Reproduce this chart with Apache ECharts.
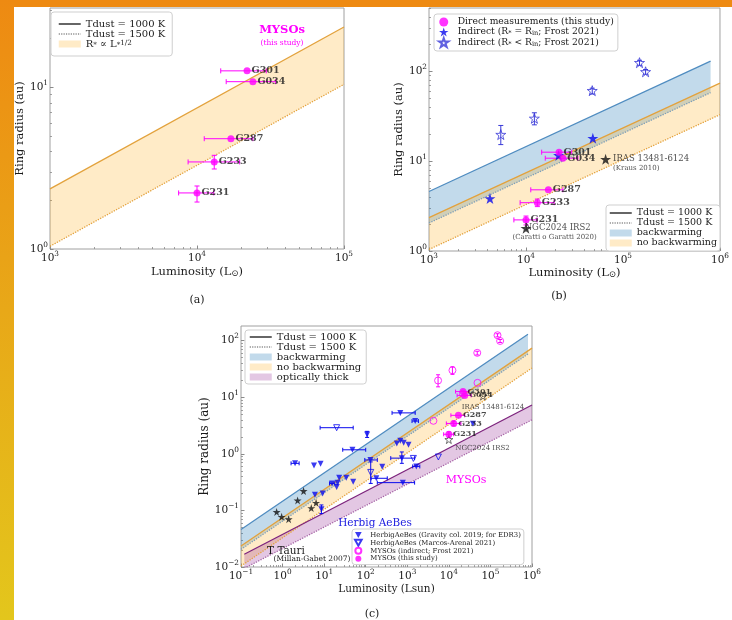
<!DOCTYPE html>
<html><head><meta charset="utf-8">
<script src="https://cdn.jsdelivr.net/npm/echarts@6/dist/echarts.min.js"></script>
<style>html,body{margin:0;padding:0;background:#fff}#c{width:732px;height:620px}</style>
</head><body><div id="c"></div>
<script>
// ---------------- DATA ----------------
// MYSOs (this study)
const mysoNames = ['G301', 'G034', 'G287', 'G233', 'G231'];
const mysoL   = [21900, 24000, 17000, 13100, 10000];
const mysoR   = [12.6, 10.8, 4.8, 3.45, 2.22];
const mysoLlo = [14500, 15800, 11200, 8700, 7500];
const mysoLhi = [29600, 34300, 24000, 19500, 13000];
const mysoRlo = [null, null, null, 3.12, 1.95];
const mysoRhi = [null, null, null, 3.79, 2.45];

// Frost 2021 indirect, R* = Rin
const frostEqL = [4250, 21700, 48900];
const frostEqR = [3.84, 11.6, 18.0];
// Frost 2021 indirect, R* < Rin
const frostLtL   = [5500, 12200, 48200, 148000, 171000];
const frostLtR   = [19.8, 30.0, 61, 125, 99];
const frostLtRlo = [15.3, 25.4, 56, 117, 93];
const frostLtRhi = [25.0, 34.6, 65, 133, 105];

// Other MYSOs (interferometric literature)
const otherNames = ['IRAS 13481-6124', 'NGC2024 IRS2'];
const otherRefs  = ['(Kraus 2010)', '(Caratti o Garatti 2020)'];
const otherL = [66200, 10000];
const otherR = [10.5, 1.79];

// Herbig AeBes (Gravity col. 2019)
const habGL   = [2.0, 5.7, 8.2, 6.0, 9.2, 8.6, 15.5, 20, 21, 23, 34, 50, 48, 108, 130, 180, 250, 680, 1550, 560, 680, 820, 1070, 740, 780, 1650, 38000];
const habGR   = [0.68, 0.62, 0.67, 0.19, 0.20, 0.105, 0.30, 0.26, 0.31, 0.38, 0.38, 0.32, 1.18, 2.2, 0.78, 0.37, 0.59, 5.3, 3.8, 1.53, 1.70, 1.57, 1.45, 0.84, 0.31, 0.60, 3.4];
const habGLlo = [1.6, null, null, null, null, null, 13.5, null, null, null, null, null, 28, null, 95, 135, null, 430, 1300, null, null, null, null, 400, 190, 1350, null];
const habGLhi = [2.5, null, null, null, null, null, 18, null, null, null, null, null, 100, null, 190, 330, null, 1550, 1850, null, null, null, null, 1500, 1500, 2000, null];
const habGRlo = [null, null, null, null, null, 0.088, null, null, null, null, null, null, null, 1.95, null, null, null, null, null, null, null, null, null, 0.68, null, null, null];
const habGRhi = [null, null, null, null, null, 0.125, null, null, null, null, null, null, null, 2.5, null, null, null, null, null, null, null, null, null, 1.08, null, null, null];

// Herbig AeBes (Marcos-Arenal 2021)
const habML   = [20, 132, 1400, 5600];
const habMR   = [2.9, 0.47, 0.83, 0.88];
const habMLlo = [8, null, null, null];
const habMLhi = [50, null, null, null];
const habMRlo = [null, 0.30, null, null];
const habMRhi = [null, 0.72, null, null];

// T Tauri (Millan-Gabet 2007)
const ttL = [0.72, 0.95, 1.4, 2.3, 3.2, 4.9, 6.4];
const ttR = [0.094, 0.077, 0.07, 0.15, 0.22, 0.11, 0.136];

// Model relations (end points)
const noBwL_a = [1e3, 1e5];   const noBw1000_a = [2.35, 23.5];  const noBw1500_a = [1.04, 10.4];
const noBwL_b = [1e3, 1e6];   const noBw1000_b = [2.35, 74];    const noBw1500_b = [1.04, 33];
const bwL_b   = [1e3, 8e5];   const bw1000_b   = [4.6, 130];    const bw1500_b   = [2.05, 58];
const noBwL_c = [0.1, 1e6];   const noBw1000_c = [0.0235, 74];  const noBw1500_c = [0.0104, 33];
const bwL_c   = [0.1, 8e5];   const bw1000_c   = [0.046, 130];  const bw1500_c   = [0.0205, 58];
const thickL_c = [0.12, 1e6]; const thick1000_c = [0.0168, 7.3]; const thick1500_c = [0.0095, 4.0];

// Axis ticks
const xMajorA = [1e3, 1e4, 1e5];   const yMajorA = [1, 10];
const xMajorB = [1e3, 1e4, 1e5, 1e6]; const yMajorB = [1, 10, 100];
const xMajorC = [0.1, 1, 10, 100, 1e3, 1e4, 1e5, 1e6]; const yMajorC = [0.01, 0.1, 1, 10, 100];

// ---------------- STYLE / HELPERS ----------------
const FONT = 'DejaVu Serif';
const TXT = '#1a1a1a';
const STAR = 'path://M50,2 L61.8,37.6 L99,37.6 L68.9,59.5 L80.4,95 L50,73 L19.6,95 L31.1,59.5 L1,37.6 L38.2,37.6 Z';
const DTRI = 'path://M0,0 L10,0 L5,9 Z';
const MAG = '#ff00ff', BLUE = '#0a0aee';
const ORANGE_LINE = '#e3a23c', BLUE_LINE = '#4f8cc0', BLUE_DOT = '#7f9fb8', PURP_LINE = '#7d237d', PURP_DOT = '#a765a7';
const ORANGE_FILL = 'rgba(255,165,0,0.22)', BLUE_FILL = 'rgba(31,119,180,0.27)', PURP_FILL = 'rgba(128,0,128,0.22)';
const TICK = '#8a8a8a';

function minorsBetween(lo, hi) {
  const out = [];
  for (let e = Math.floor(Math.log10(lo)); e <= Math.ceil(Math.log10(hi)); e++) {
    for (let k = 2; k <= 9; k++) { const v = k * Math.pow(10, e); if (v > lo * 1.0001 && v < hi * 0.9999) out.push(v); }
  }
  return out;
}
function powLabel(v) {
  const e = Math.log10(v);
  if (Math.abs(e - Math.round(e)) > 1e-6) return '';
  const r = Math.round(e);
  return '{b|10}{s|' + (r < 0 ? '\u2212' + (-r) : r) + '}';
}
function labelRich(fs) {
  return { b: { fontSize: fs, lineHeight: fs + 5, fontFamily: FONT, color: TXT },
           s: { fontSize: fs * 0.7, lineHeight: fs * 0.8, verticalAlign: 'top', fontFamily: FONT, color: TXT } };
}
function mkAxes(dim, gi, min, max, majors, name, nameGap, nameSize, labelSize) {
  const pos = dim === 'x' ? 'bottom' : 'left';
  const main = {
    type: 'log', logBase: 10, gridIndex: gi, position: pos, min, max,
    axisLine: { show: false }, splitLine: { show: false },
    axisTick: { show: true, inside: true, customValues: majors, length: 3.5, lineStyle: { color: TICK, width: 1 } },
    axisLabel: { customValues: majors, margin: dim === 'x' ? 2 : 2, formatter: powLabel, rich: labelRich(labelSize) },
    name, nameLocation: 'middle', nameGap,
    nameTextStyle: { fontSize: nameSize, fontFamily: FONT, color: TXT,
      rich: { sub: { fontSize: nameSize * 0.75, verticalAlign: 'bottom', lineHeight: nameSize * 0.8, fontFamily: FONT, color: TXT } } }
  };
  if (dim === 'y') main.nameRotate = 90;
  const minor = {
    type: 'log', logBase: 10, gridIndex: gi, position: pos, min, max,
    axisLine: { show: false }, splitLine: { show: false }, axisLabel: { show: false },
    axisTick: { show: true, inside: true, customValues: minorsBetween(min, max), length: 2, lineStyle: { color: TICK, width: 0.8 } }
  };
  return [main, minor];
}

const series = [];
function edge(name, xs, ys, ai, color, type, width) {
  series.push({ type: 'line', name, xAxisIndex: ai, yAxisIndex: ai, silent: true, z: 3,
    data: xs.map((x, i) => [x, ys[i]]), symbol: 'none', showSymbol: false, clip: true,
    lineStyle: { color, type, width: width || 1.3 }, itemStyle: { color } });
}
function band(name, xs, up, lo, ai, fill) {
  series.push({ type: 'custom', name, xAxisIndex: ai, yAxisIndex: ai, silent: true, z: 1, clip: true,
    itemStyle: { color: fill },
    data: [[xs[0], up[0]]],
    renderItem(params, api) {
      const pts = [api.coord([xs[0], up[0]]), api.coord([xs[1], up[1]]),
                   api.coord([xs[1], lo[1]]), api.coord([xs[0], lo[0]])];
      return { type: 'polygon', shape: { points: pts }, style: { fill } };
    } });
}
function errBars(L, R, Llo, Lhi, Rlo, Rhi, ai, color, cap) {
  series.push({ type: 'custom', name: 'err', xAxisIndex: ai, yAxisIndex: ai, silent: true, z: 4, clip: true,
    data: L.map((x, i) => [x, R[i]]),
    renderItem(params, api) {
      const i = params.dataIndex, kids = [], st = { stroke: color, lineWidth: 1 };
      const seg = (x1, y1, x2, y2) => kids.push({ type: 'line', shape: { x1, y1, x2, y2 }, style: st });
      if (Llo && Llo[i] != null) {
        const a = api.coord([Llo[i], R[i]]), b = api.coord([Lhi[i], R[i]]);
        seg(a[0], a[1], b[0], b[1]); seg(a[0], a[1] - cap, a[0], a[1] + cap); seg(b[0], b[1] - cap, b[0], b[1] + cap);
      }
      if (Rlo && Rlo[i] != null) {
        const a = api.coord([L[i], Rlo[i]]), b = api.coord([L[i], Rhi[i]]);
        seg(a[0], a[1], b[0], b[1]); seg(a[0] - cap, a[1], a[0] + cap, a[1]); seg(b[0] - cap, b[1], b[0] + cap, b[1]);
      }
      return { type: 'group', children: kids };
    } });
}
function pts(name, L, R, ai, symbol, size, itemStyle, extra) {
  series.push(Object.assign({ type: 'scatter', name, xAxisIndex: ai, yAxisIndex: ai, symbol, symbolSize: size,
    itemStyle, z: 5, data: L.map((x, i) => [x, R[i]]) }, extra || {}));
}
function labeled(L, R, names) { return L.map((x, i) => ({ value: [x, R[i]], name: names[i] })); }

// ---------------- PANEL (a) ----------------
const RS_NAME = 'R* \u221d L*^1/2';
band(RS_NAME, noBwL_a, noBw1000_a, noBw1500_a, 0, ORANGE_FILL);
edge('Tdust = 1000 K', noBwL_a, noBw1000_a, 0, ORANGE_LINE, 'solid');
edge('Tdust = 1500 K', noBwL_a, noBw1500_a, 0, ORANGE_LINE, 'dotted');
errBars(mysoL, mysoR, mysoLlo, mysoLhi, mysoRlo, mysoRhi, 0, MAG, 2.5);
pts('MYSOs a', mysoL, mysoR, 0, 'circle', 7, { color: MAG }, {
  data: labeled(mysoL, mysoR, mysoNames),
  label: { show: true, position: 'right', distance: 1, formatter: '{b}', fontFamily: FONT, fontSize: 9.5, fontWeight: 'bold', color: TXT } });

// ---------------- PANEL (b) ----------------
band('backwarming', bwL_b, bw1000_b, bw1500_b, 1, BLUE_FILL);
band('no backwarming', noBwL_b, noBw1000_b, noBw1500_b, 1, ORANGE_FILL);
edge('Tdust = 1000 K', bwL_b, bw1000_b, 1, BLUE_LINE, 'solid');
edge('Tdust = 1500 K', bwL_b, bw1500_b, 1, BLUE_DOT, 'dotted');
edge('Tdust = 1000 K', noBwL_b, noBw1000_b, 1, ORANGE_LINE, 'solid');
edge('Tdust = 1500 K', noBwL_b, noBw1500_b, 1, ORANGE_LINE, 'dotted');
errBars(mysoL, mysoR, mysoLlo, mysoLhi, mysoRlo, mysoRhi, 1, MAG, 2.5);
errBars(frostLtL, frostLtR, null, null, frostLtRlo, frostLtRhi, 1, '#3a3ad8', 2.5);
pts('Indirect (R* < Rin; Frost 2021)', frostLtL, frostLtR, 1, STAR, 10,
  { color: 'rgba(255,255,255,0)', borderColor: '#3a3ad8', borderWidth: 1 });
pts('Indirect (R* = Rin; Frost 2021)', frostEqL, frostEqR, 1, STAR, 11, { color: BLUE });
pts('Direct measurements (this study)', mysoL, mysoR, 1, 'circle', 7, { color: MAG }, {
  data: labeled(mysoL, mysoR, mysoNames),
  label: { show: true, position: 'right', distance: 1, formatter: '{b}', fontFamily: FONT, fontSize: 9.5, fontWeight: 'bold', color: TXT } });
pts('other MYSOs b', otherL, otherR, 1, STAR, 11, { color: '#111' }, {
  data: otherL.map((x, i) => ({ value: [x, otherR[i]], name: otherNames[i],
    label: i === 0
      ? { offset: [0, 4], rich: {
          a: { fontFamily: FONT, fontSize: 8.5, lineHeight: 9, color: TXT, align: 'left' },
          r: { fontFamily: FONT, fontSize: 7, lineHeight: 8, color: TXT, align: 'left' } } }
      : { offset: [-21, 4] } })),
  label: { show: true, position: 'right', distance: 2, color: TXT,
    formatter: (p) => '{a|' + p.name + '}\n{r|' + otherRefs[p.dataIndex] + '}',
    rich: { a: { fontFamily: FONT, fontSize: 8.5, lineHeight: 9, color: TXT, align: 'right', padding: [0, 6, 0, 0] },
            r: { fontFamily: FONT, fontSize: 7, lineHeight: 8, color: TXT } } } });

// ---------------- PANEL (c) ----------------
band('backwarming', bwL_c, bw1000_c, bw1500_c, 2, BLUE_FILL);
band('no backwarming', noBwL_c, noBw1000_c, noBw1500_c, 2, ORANGE_FILL);
band('optically thick', thickL_c, thick1000_c, thick1500_c, 2, PURP_FILL);
edge('Tdust = 1000 K', bwL_c, bw1000_c, 2, BLUE_LINE, 'solid');
edge('Tdust = 1500 K', bwL_c, bw1500_c, 2, BLUE_DOT, 'dotted');
edge('Tdust = 1000 K', noBwL_c, noBw1000_c, 2, ORANGE_LINE, 'solid');
edge('Tdust = 1500 K', noBwL_c, noBw1500_c, 2, ORANGE_LINE, 'dotted');
edge('Tdust = 1000 K', thickL_c, thick1000_c, 2, PURP_LINE, 'solid');
edge('Tdust = 1500 K', thickL_c, thick1500_c, 2, PURP_DOT, 'dotted');
errBars(habGL, habGR, habGLlo, habGLhi, habGRlo, habGRhi, 2, BLUE, 2);
errBars(habML, habMR, habMLlo, habMLhi, habMRlo, habMRhi, 2, BLUE, 2);
errBars(frostLtL, frostLtR, null, null, frostLtRlo, frostLtRhi, 2, MAG, 2);
errBars(mysoL, mysoR, mysoLlo, mysoLhi, mysoRlo, mysoRhi, 2, MAG, 2);
pts('HerbigAeBes (Gravity col. 2019; for EDR3)', habGL, habGR, 2, DTRI, 6, { color: BLUE });
pts('HerbigAeBes (Marcos-Arenal 2021)', habML, habMR, 2, DTRI, 6,
  { color: 'rgba(255,255,255,0)', borderColor: BLUE, borderWidth: 1 });
pts('T Tauri', ttL, ttR, 2, STAR, 8, { color: '#111' });
pts('MYSOs (indirect; Frost 2021)', frostEqL.concat(frostLtL), frostEqR.concat(frostLtR), 2, 'circle', 7,
  { color: 'rgba(255,255,255,0)', borderColor: MAG, borderWidth: 1 });
pts('other MYSOs c', otherL, otherR, 2, STAR, 8,
  { color: 'rgba(255,255,255,0)', borderColor: '#222', borderWidth: 0.8 }, {
  data: otherL.map((x, i) => ({ value: [x, otherR[i]], name: otherNames[i],
    label: i === 0 ? { position: 'bottom', distance: 3, offset: [10, 0] } : { position: 'right', distance: 2, offset: [0, 9] } })),
  label: { show: true, formatter: '{b}', fontFamily: FONT, fontSize: 7, color: TXT } });
pts('MYSOs (this study)', mysoL, mysoR, 2, 'circle', 7, { color: MAG }, {
  data: labeled(mysoL, mysoR, mysoNames),
  label: { show: true, position: 'right', distance: 1, formatter: '{b}', fontFamily: FONT, fontSize: 8, fontWeight: 'bold', color: TXT } });

// ---------------- AXES ----------------
const axA = { x: mkAxes('x', 0, 1e3, 1e5, xMajorA, 'Luminosity (L{sub|\u2299})', 17, 11.5, 10.5),
              y: mkAxes('y', 0, 1, 30.8, yMajorA, 'Ring radius (au)', 18, 11.5, 10.5) };
const axB = { x: mkAxes('x', 1, 1e3, 1e6, xMajorB, 'Luminosity (L{sub|\u2299})', 16, 11.5, 10.5),
              y: mkAxes('y', 1, 1, 508, yMajorB, 'Ring radius (au)', 18, 11.5, 10.5) };
const axC = { x: mkAxes('x', 2, 0.1, 1e6, xMajorC, 'Luminosity (Lsun)', 17, 10.5, 10.5),
              y: mkAxes('y', 2, 0.01, 182, yMajorC, 'Ring radius (au)', 26, 12, 10.5) };
const xAxis = [axA.x[0], axB.x[0], axC.x[0], axA.x[1], axB.x[1], axC.x[1]];
const yAxis = [axA.y[0], axB.y[0], axC.y[0], axA.y[1], axB.y[1], axC.y[1]];

// ---------------- LEGENDS ----------------
const legRich = (fs) => ({
  sub: { fontSize: fs * 0.72, lineHeight: fs * 0.6, verticalAlign: 'bottom', fontFamily: FONT, color: TXT },
  sup: { fontSize: fs * 0.72, lineHeight: fs * 0.6, verticalAlign: 'top', fontFamily: FONT, color: TXT } });
const legFmt = (name) => ({
  [RS_NAME]: 'R{sub|*} \u221d L{sub|*}{sup|1/2}',
  'Indirect (R* = Rin; Frost 2021)': 'Indirect (R{sub|*} = R{sub|in}; Frost 2021)',
  'Indirect (R* < Rin; Frost 2021)': 'Indirect (R{sub|*} < R{sub|in}; Frost 2021)'
}[name] || name);
function legend(pos, fs, lh, data, extra) {
  return Object.assign({ orient: 'vertical', selectedMode: false, itemGap: 0, itemWidth: 22, itemHeight: 7,
    backgroundColor: '#fff', borderColor: '#cfcfcf', borderWidth: 1, borderRadius: 3,
    padding: [6, 6, 6, 6], formatter: legFmt,
    textStyle: { fontFamily: FONT, fontSize: fs, lineHeight: lh, color: TXT, rich: legRich(fs) }, data }, pos, extra || {});
}
const NOSYM = { opacity: 0, color: 'rgba(0,0,0,0)', borderWidth: 0 };
const T1000 = { name: 'Tdust = 1000 K', itemStyle: NOSYM, lineStyle: { color: '#333', type: 'solid', width: 1.5 } };
const T1500 = { name: 'Tdust = 1500 K', itemStyle: NOSYM, lineStyle: { color: '#555', type: 'dotted', width: 1.2 } };
const legends = [
  legend({ left: 51, top: 12 }, 10, 8.4, [T1000, T1500, { name: RS_NAME, icon: 'rect' }], { padding: [7, 7, 7, 7] }),
  legend({ left: 434, top: 14 }, 9.2, 10, [
    { name: 'Direct measurements (this study)' },
    { name: 'Indirect (R* = Rin; Frost 2021)' },
    { name: 'Indirect (R* < Rin; Frost 2021)' }], { itemWidth: 18, itemHeight: 9, padding: [3, 4, 3, 4] }),
  legend({ left: 606, top: 205 }, 9.5, 8.9, [T1000, T1500,
    { name: 'backwarming', icon: 'rect' }, { name: 'no backwarming', icon: 'rect' }], { padding: [3, 3, 3, 3] }),
  legend({ left: 245, top: 330 }, 10, 10, [T1000, T1500,
    { name: 'backwarming', icon: 'rect' }, { name: 'no backwarming', icon: 'rect' }, { name: 'optically thick', icon: 'rect' }],
    { padding: [2, 5, 2, 4] }),
  legend({ left: 352, top: 529 }, 6.9, 7.8, [
    { name: 'HerbigAeBes (Gravity col. 2019; for EDR3)' },
    { name: 'HerbigAeBes (Marcos-Arenal 2021)' },
    { name: 'MYSOs (indirect; Frost 2021)' },
    { name: 'MYSOs (this study)' }], { itemWidth: 14, itemHeight: 6, padding: [2, 3, 2, 2] })
];

// ---------------- GRAPHIC (frame, captions, annotations) ----------------
const txt = (x, y, text, size, color, weight) => ({ type: 'text', x, y, z: 100,
  style: { text, fontFamily: FONT, fontSize: size, fill: color || TXT, fontWeight: weight || 'normal', align: 'center', verticalAlign: 'middle' } });
const graphic = [
  { type: 'rect', x: 0, y: 0, z: 200, shape: { width: 732, height: 7 }, style: { fill: '#ee8a12' } },
  { type: 'rect', x: 0, y: 0, z: 200, shape: { width: 14, height: 620 },
    style: { fill: new echarts.graphic.LinearGradient(0, 0, 0, 1, [{ offset: 0, color: '#ee8a12' }, { offset: 0.5, color: '#e8a818' }, { offset: 1, color: '#e3c61c' }]) } },
  txt(197, 300, '(a)', 11), txt(559, 296, '(b)', 11), txt(372, 614, '(c)', 11),
  txt(282, 30, 'MYSOs', 11.5, MAG, 'bold'), txt(282, 43, '(this study)', 7.5, MAG),
  txt(466, 480, 'MYSOs', 11, MAG), txt(375, 523, 'Herbig AeBes', 10.5, '#2020e0'),
  txt(286, 551, 'T Tauri', 10.5, TXT), txt(312, 559, '(Millan-Gabet 2007)', 7.5, TXT)
];

const grid = [
  { left: 50, top: 8, width: 294, height: 241 },
  { left: 429, top: 8, width: 295, height: 243 },
  { left: 241, top: 326, width: 291, height: 241 }
].map(g => Object.assign(g, { show: true, borderColor: '#a0a0a0', borderWidth: 1, backgroundColor: 'transparent' }));

const chart = echarts.init(document.getElementById('c'));
chart.setOption({
  animation: false,
  textStyle: { fontFamily: FONT },
  grid, xAxis, yAxis, legend: legends, graphic, series
});
</script></body></html>
